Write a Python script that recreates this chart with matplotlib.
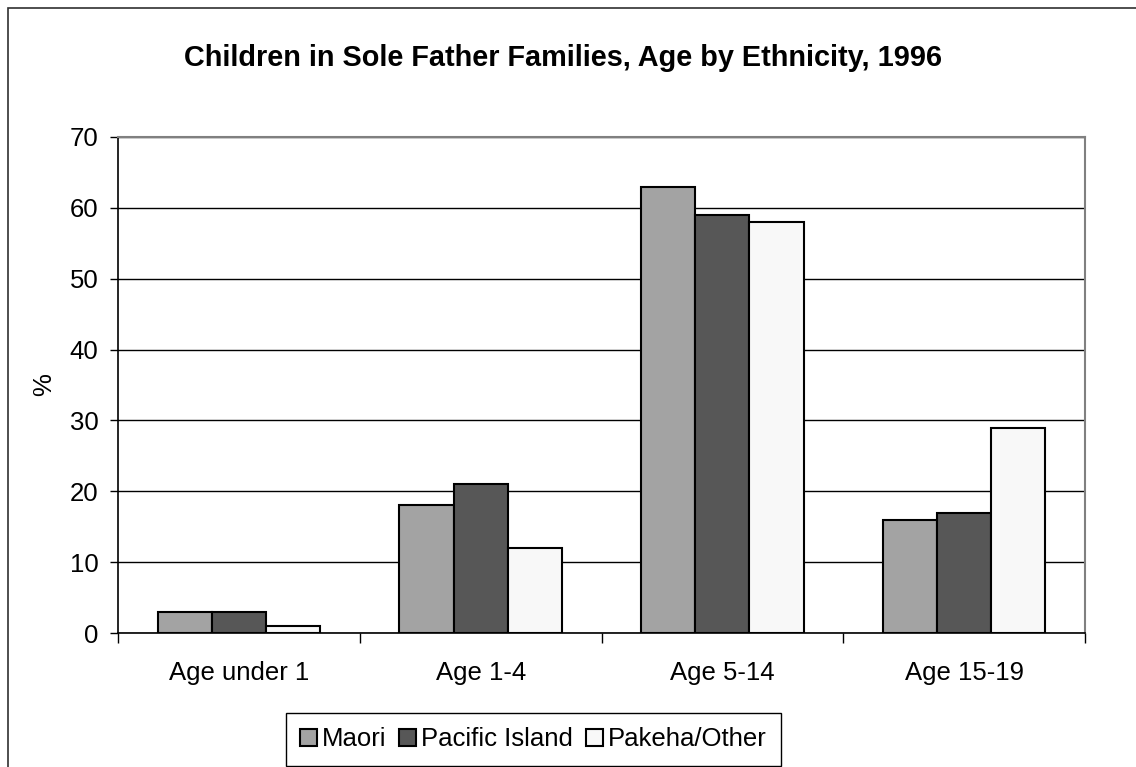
import matplotlib
matplotlib.use("Agg")
import matplotlib.pyplot as plt
import numpy as np
from matplotlib.patches import Rectangle

plt.rcParams['font.family'] = ['Liberation Sans', 'DejaVu Sans']

age_groups = ["Age under 1", "Age 1-4", "Age 5-14", "Age 15-19"]
maori = [3, 18, 63, 16]
pacific = [3, 21, 59, 17]
pakeha = [1, 12, 58, 29]

series = [("Maori", maori, "#a3a3a3"),
          ("Pacific Island", pacific, "#575757"),
          ("Pakeha/Other", pakeha, "#f8f8f8")]

fig = plt.figure(figsize=(11.36, 7.67), dpi=100)
ax = fig.add_axes([0.1039, 0.1747, 0.8512, 0.6467])

x = np.arange(len(age_groups))
w = 0.224
for i, (name, vals, col) in enumerate(series):
    ax.bar(x + (i - 1) * w, vals, w, color=col, edgecolor="black",
           linewidth=1.5, label=name, zorder=3)

ax.set_xlim(-0.5, 3.5)
ax.set_ylim(0, 70)
ax.set_yticks(range(0, 71, 10))
ax.yaxis.grid(True, color="black", linewidth=1, zorder=0)

# category boundaries get the tick marks, names sit in between
ax.set_xticks(np.arange(-0.5, 4, 1))
ax.set_xticklabels([])
ax.set_xticks(x, minor=True)
ax.set_xticklabels(age_groups, minor=True)
ax.tick_params(axis="x", which="major", length=7, direction="out", width=1)
ax.tick_params(axis="x", which="minor", length=0, pad=20, labelsize=18.5)
ax.tick_params(axis="y", length=6, width=1, pad=8, labelsize=18.5)

for s in ["top", "right"]:
    ax.spines[s].set_color("#808080")
    ax.spines[s].set_linewidth(1.5)
for s in ["left", "bottom"]:
    ax.spines[s].set_color("black")
    ax.spines[s].set_linewidth(1.2)

ax.set_ylabel("%", fontsize=18.5, labelpad=10)
fig.text(0.496, 0.924, "Children in Sole Father Families, Age by Ethnicity, 1996",
         ha="center", va="center", fontsize=20.8, fontweight="bold")

fig.legend(loc="center", bbox_to_anchor=(0.4696, 0.036), ncol=3, fontsize=18.5,
           frameon=True, fancybox=False, edgecolor="black", framealpha=1,
           handlelength=0.65, handleheight=0.65, handletextpad=0.2,
           columnspacing=0.5, borderpad=0.55, borderaxespad=0)

# outer chart border
fig.patches.append(Rectangle((8 / 1136, -0.1), 1.2, 1 - 8 / 767 + 0.1,
                             transform=fig.transFigure, fill=False,
                             edgecolor="#303030", linewidth=1.2))

fig.savefig("out.png", dpi=100)
